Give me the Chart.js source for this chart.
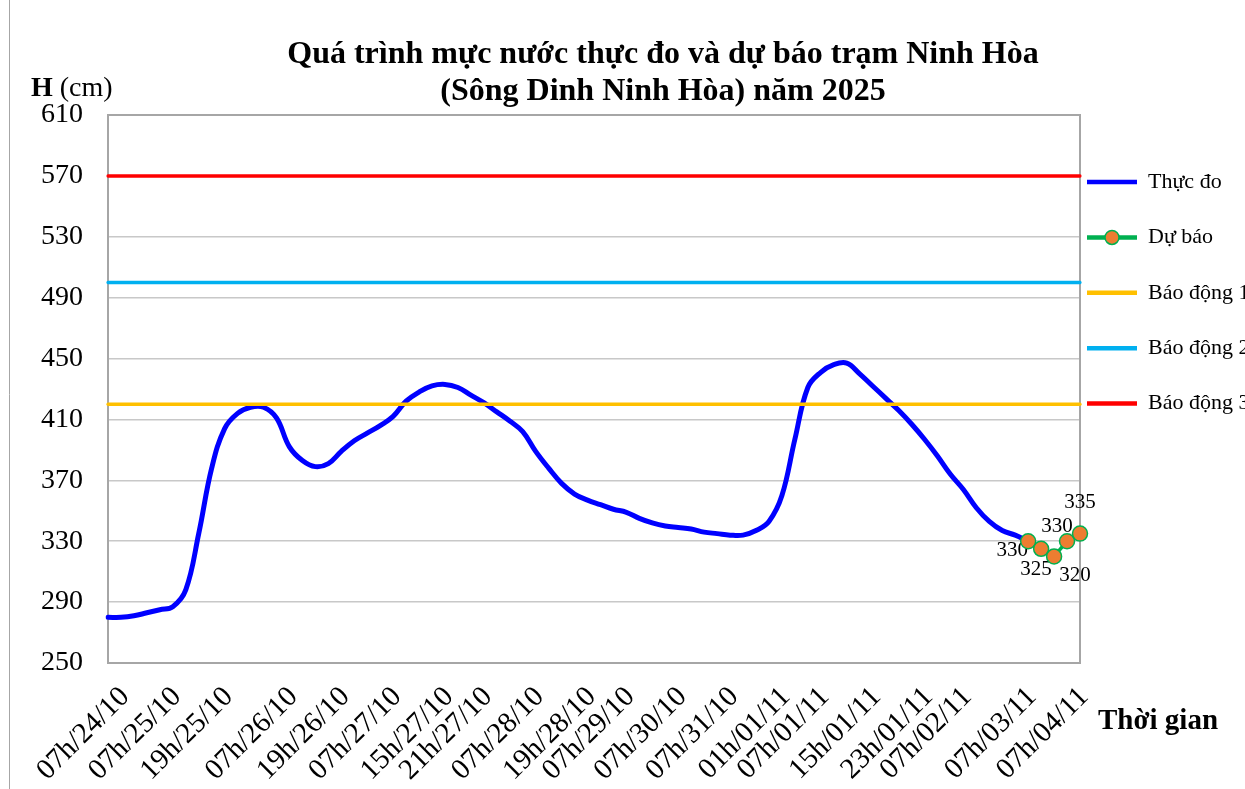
<!DOCTYPE html>
<html>
<head>
<meta charset="utf-8">
<script src="https://cdn.jsdelivr.net/npm/chart.js@4/dist/chart.umd.min.js"></script>
<style>
html,body{margin:0;padding:0;background:#fff;}
#wrap{width:1245px;height:789px;position:relative;overflow:hidden;}
canvas{display:block;}
</style>
</head>
<body>
<div id="wrap"><canvas id="c" width="1245" height="789"></canvas></div>
<script>
// ---------- DATA ----------
const titleLines = ['Quá trình mực nước thực đo và dự báo trạm Ninh Hòa', '(Sông Dinh Ninh Hòa) năm 2025'];
const yAxisUnit = ['H', ' (cm)'];
const xAxisTitle = 'Thời gian';
const categoryCount = 76;
const tickIndices = [0, 4, 8, 13, 17, 21, 25, 28, 32, 36, 39, 43, 47, 51, 54, 58, 62, 65, 70, 74];
const tickLabels = ['07h/24/10', '07h/25/10', '19h/25/10', '07h/26/10', '19h/26/10', '07h/27/10',
  '15h/27/10', '21h/27/10', '07h/28/10', '19h/28/10', '07h/29/10', '07h/30/10', '07h/31/10',
  '01h/01/11', '07h/01/11', '15h/01/11', '23h/01/11', '07h/02/11', '07h/03/11', '07h/04/11'];
const observed = [280, 280, 281, 283, 285, 287, 298, 335, 378, 404,
  414, 418, 418, 411, 392, 383, 379, 381, 389, 396,
  401, 406, 412, 422, 428, 432, 433, 431, 426, 421,
  415, 409, 402, 389, 378, 368, 361, 357, 354, 351,
  349, 345, 342, 340, 339, 338, 336, 335, 334, 334,
  337, 343, 360, 397, 431, 441, 446, 447, 440, 432,
  424, 416, 407, 397, 386, 374, 364, 352, 343, 337,
  334, 330];
const forecastStart = 71;
const forecast = [330, 325, 320, 330, 335];
const alarm1 = 420;
const alarm2 = 500;
const alarm3 = 570;
const yMin = 250, yMax = 610, yStep = 40;
const seriesNames = ['Thực đo', 'Dự báo', 'Báo động 1', 'Báo động 2', 'Báo động 3'];

// ---------- TABLES BUILT FROM DATA ----------
const categories = Array.from({length: categoryCount}, (_, i) => {
  const k = tickIndices.indexOf(i);
  return k >= 0 ? tickLabels[k] : '';
});
const forecastData = categories.map((_, i) => i >= forecastStart ? forecast[i - forecastStart] : null);
const levelLine = v => categories.map((_, i) => (i === 0 || i === categoryCount - 1) ? v : null);

const SERIF = '"Liberation Serif", "Times New Roman", serif';
const labelOffsets = [[-16, 9], [-5, 21], [21, 19], [-10, -15], [0, -31]];

const decor = {
  id: 'decor',
  beforeDraw(chart) {
    const ctx = chart.ctx;
    ctx.save();
    ctx.fillStyle = '#ffffff';
    ctx.fillRect(0, 0, chart.width, chart.height);
    ctx.strokeStyle = '#A6A6A6';
    ctx.lineWidth = 1;
    ctx.beginPath();
    ctx.moveTo(9.5, 0);
    ctx.lineTo(9.5, chart.height);
    ctx.stroke();
    ctx.restore();
  },
  beforeDatasetsDraw(chart) {
    const {ctx, chartArea: a} = chart;
    ctx.save();
    ctx.strokeStyle = '#A6A6A6';
    ctx.lineWidth = 2;
    ctx.strokeRect(a.left, a.top, a.right - a.left, a.bottom - a.top);
    const meta = chart.getDatasetMeta(1);
    ctx.fillStyle = '#000';
    ctx.font = '21px ' + SERIF;
    ctx.textAlign = 'center';
    ctx.textBaseline = 'middle';
    forecast.forEach((v, k) => {
      const el = meta.data[forecastStart + k];
      if (!el) return;
      ctx.fillText(String(v), el.x + labelOffsets[k][0], el.y + labelOffsets[k][1]);
    });
    ctx.restore();
  },
  afterDraw(chart) {
    const ctx = chart.ctx;
    ctx.save();
    ctx.fillStyle = '#000';
    ctx.textBaseline = 'middle';
    ctx.textAlign = 'center';
    ctx.font = 'bold 32px ' + SERIF;
    ctx.fillText(titleLines[0], 663, 55);
    ctx.fillText(titleLines[1], 663, 92);
    ctx.textAlign = 'left';
    ctx.font = 'bold 28px ' + SERIF;
    ctx.fillText(yAxisUnit[0], 31, 89);
    const w = ctx.measureText(yAxisUnit[0]).width;
    ctx.font = '28px ' + SERIF;
    ctx.fillText(yAxisUnit[1], 31 + w, 89);
    ctx.font = 'bold 29px ' + SERIF;
    ctx.fillText(xAxisTitle, 1098, 722);
    const lg = chart.legend;
    if (lg && lg.legendHitBoxes && lg.legendHitBoxes[1]) {
      const hb = lg.legendHitBoxes[1];
      const cx = hb.left + 25, cy = hb.top + 11;
      ctx.beginPath();
      ctx.arc(cx, cy, 7, 0, Math.PI * 2);
      ctx.fillStyle = '#ED7D31';
      ctx.fill();
      ctx.lineWidth = 1.5;
      ctx.strokeStyle = '#00B050';
      ctx.stroke();
    }
    ctx.restore();
  }
};

const chart = new Chart(document.getElementById('c'), {
  type: 'line',
  data: {
    labels: categories,
    datasets: [
      {label: seriesNames[0], data: observed, borderColor: '#0000FF', backgroundColor: '#0000FF',
       borderWidth: 5, pointRadius: 0, tension: 0.4, borderCapStyle: 'round', order: 3},
      {label: seriesNames[1], data: forecastData, borderColor: '#00B050', backgroundColor: '#ED7D31',
       borderWidth: 3.5, pointRadius: 7.5, pointBorderWidth: 1.5, pointBorderColor: '#00B050',
       pointBackgroundColor: '#ED7D31', tension: 0, borderCapStyle: 'round', order: 0},
      {label: seriesNames[2], data: levelLine(alarm1), borderColor: '#FFC000', backgroundColor: '#FFC000',
       borderWidth: 3.5, pointRadius: 0, spanGaps: true, borderCapStyle: 'round', order: 1},
      {label: seriesNames[3], data: levelLine(alarm2), borderColor: '#00B0F0', backgroundColor: '#00B0F0',
       borderWidth: 3.5, pointRadius: 0, spanGaps: true, borderCapStyle: 'round', order: 1},
      {label: seriesNames[4], data: levelLine(alarm3), borderColor: '#FF0000', backgroundColor: '#FF0000',
       borderWidth: 3.5, pointRadius: 0, spanGaps: true, borderCapStyle: 'round', order: 1}
    ]
  },
  options: {
    responsive: false,
    animation: false,
    events: [],
    layout: {padding: {top: 115, left: 41, right: 0, bottom: 1}},
    scales: {
      x: {
        grid: {display: false},
        border: {display: true, color: '#A6A6A6', width: 2},
        ticks: {autoSkip: false, minRotation: 45, maxRotation: 45, padding: 9, labelOffset: 17,
                color: '#000', font: {family: SERIF, size: 29}},
        afterFit(scale) { scale.paddingLeft = 0; scale.paddingRight = 0; scale.height = 125; }
      },
      y: {
        min: yMin, max: yMax,
        grid: {color: '#C8C8C8', lineWidth: 1.5, drawTicks: false},
        border: {display: true, color: '#A6A6A6', width: 2},
        ticks: {stepSize: yStep, padding: 25, color: '#000', font: {family: SERIF, size: 28}},
        afterFit(scale) { scale.width = 67; }
      }
    },
    plugins: {
      title: {display: false},
      tooltip: {enabled: false},
      legend: {
        position: 'right',
        align: 'start',
        fullSize: false,
        maxWidth: 165,
        title: {display: true, text: ' ', font: {size: 10, lineHeight: 1}, padding: {top: 19.5, bottom: 19.5}},
        labels: {
          usePointStyle: true,
          pointStyle: 'line',
          pointStyleWidth: 50,
          padding: 7,
          color: '#000',
          font: {family: SERIF, size: 22, lineHeight: 2.2},
          sort: (a, b) => a.datasetIndex - b.datasetIndex,
          generateLabels(ch) {
            const items = Chart.defaults.plugins.legend.labels.generateLabels(ch);
            items.forEach(it => { it.text = [it.text]; it.pointStyle = 'line'; it.lineWidth = 4.5; });
            return items;
          }
        }
      }
    }
  },
  plugins: [decor]
});
</script>
</body>
</html>
